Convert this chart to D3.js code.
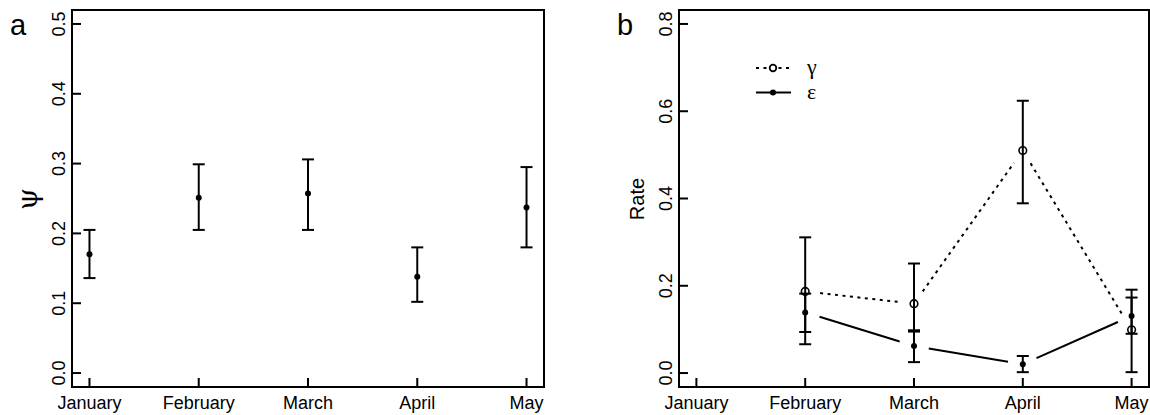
<!DOCTYPE html>
<html>
<head>
<meta charset="utf-8">
<script src="https://cdn.jsdelivr.net/npm/d3@7"></script>
<style>
  body { margin: 0; background: #fff; }
  svg { display: block; font-family: "Liberation Sans", Arial, sans-serif; }
</style>
</head>
<body>
<svg id="chart" width="1150" height="415"></svg>
<script>
// months on the x axis (1..5)
const months = ["January", "February", "March", "April", "May"];

// panel a : psi estimates with CI
const psi = [0.170, 0.251, 0.257, 0.138, 0.237];
const psiLo = [0.136, 0.205, 0.205, 0.102, 0.180];
const psiHi = [0.205, 0.299, 0.306, 0.180, 0.295];
const ticksA = [0, 0.1, 0.2, 0.3, 0.4, 0.5];

// panel b : gamma (colonisation) and epsilon (extinction), February..May
const rateMonths = [2, 3, 4, 5];
const gamma = [0.187, 0.159, 0.510, 0.099];
const gammaLo = [0.094, 0.098, 0.389, 0.002];
const gammaHi = [0.311, 0.251, 0.624, 0.173];
const eps = [0.139, 0.062, 0.020, 0.131];
const epsLo = [0.066, 0.025, 0.002, 0.090];
const epsHi = [0.182, 0.095, 0.039, 0.191];
const ticksB = [0, 0.2, 0.4, 0.6, 0.8];

const svg = d3.select("#chart");
const plotTop = 10, plotBottom = 387;

function panel(left, right, ymin, ymax, yticks, letter) {
  const x = d3.scaleLinear().domain([0.84, 5.16]).range([left, right]);
  const pad = (ymax - ymin) * 0.04;
  const y = d3.scaleLinear().domain([ymin - pad, ymax + pad]).range([plotBottom, plotTop]);
  const g = svg.append("g");

  g.append("rect")
    .attr("x", left).attr("y", plotTop)
    .attr("width", right - left).attr("height", plotBottom - plotTop)
    .attr("fill", "none").attr("stroke", "#000").attr("stroke-width", 2);

  // y ticks, pointing inward
  yticks.forEach((t) => {
    g.append("line")
      .attr("x1", left).attr("x2", left + 9)
      .attr("y1", y(t)).attr("y2", y(t))
      .attr("stroke", "#000").attr("stroke-width", 2);
    g.append("text")
      .attr("transform", `translate(${left - 7},${y(t)}) rotate(-90)`)
      .attr("text-anchor", "middle")
      .style("font-size", "18px")
      .text(t.toFixed(1));
  });

  // x ticks
  months.forEach((m, i) => {
    g.append("line")
      .attr("x1", x(i + 1)).attr("x2", x(i + 1))
      .attr("y1", plotBottom).attr("y2", plotBottom - 9)
      .attr("stroke", "#000").attr("stroke-width", 2);
    g.append("text")
      .attr("x", x(i + 1)).attr("y", 409)
      .attr("text-anchor", "middle")
      .style("font-size", "18px")
      .text(m);
  });

  g.append("text")
    .attr("x", left - 62).attr("y", 35)
    .style("font-size", "29px")
    .text(letter);

  return { x, y, g };
}

function errorBars(p, xs, lo, hi) {
  xs.forEach((v, i) => {
    const cx = p.x(v);
    p.g.append("line")
      .attr("x1", cx).attr("x2", cx)
      .attr("y1", p.y(lo[i])).attr("y2", p.y(hi[i]))
      .attr("stroke", "#000").attr("stroke-width", 2);
    [lo[i], hi[i]].forEach((e) => {
      p.g.append("line")
        .attr("x1", cx - 6).attr("x2", cx + 6)
        .attr("y1", p.y(e)).attr("y2", p.y(e))
        .attr("stroke", "#000").attr("stroke-width", 2);
    });
  });
}

// R type="b": segments between points with a gap around each point
function gappedLine(p, xs, ys, dash) {
  const gap = 15;
  for (let i = 0; i < xs.length - 1; i++) {
    const x1 = p.x(xs[i]), y1 = p.y(ys[i]);
    const x2 = p.x(xs[i + 1]), y2 = p.y(ys[i + 1]);
    const len = Math.hypot(x2 - x1, y2 - y1);
    if (len <= 2 * gap) continue;
    const ux = (x2 - x1) / len, uy = (y2 - y1) / len;
    p.g.append("line")
      .attr("x1", x1 + ux * gap).attr("y1", y1 + uy * gap)
      .attr("x2", x2 - ux * gap).attr("y2", y2 - uy * gap)
      .attr("stroke", "#000").attr("stroke-width", 2)
      .attr("stroke-dasharray", dash);
  }
}

// ---- panel a
const pa = panel(72, 544, 0, 0.5, ticksA, "a");
pa.g.append("text")
  .attr("transform", "translate(27,199) rotate(-90)")
  .attr("text-anchor", "middle")
  .attr("dominant-baseline", "central")
  .style("font-family", "'DejaVu Serif', serif")
  .style("font-size", "28px")
  .text("\u03c8");
errorBars(pa, months.map((m, i) => i + 1), psiLo, psiHi);
pa.g.selectAll(".pt").data(psi).join("circle")
  .attr("cx", (d, i) => pa.x(i + 1)).attr("cy", (d) => pa.y(d))
  .attr("r", 3).attr("fill", "#000");

// ---- panel b
const pb = panel(679, 1149, 0, 0.8, ticksB, "b");
pb.g.append("text")
  .attr("transform", "translate(644,199) rotate(-90)")
  .attr("text-anchor", "middle")
  .attr("font-size", 20)
  .style("font-size", "20px")
  .text("Rate");
gappedLine(pb, rateMonths, gamma, "3,4.5");
gappedLine(pb, rateMonths, eps, null);
errorBars(pb, rateMonths, gammaLo, gammaHi);
errorBars(pb, rateMonths, epsLo, epsHi);
pb.g.selectAll(".g").data(gamma).join("circle")
  .attr("cx", (d, i) => pb.x(rateMonths[i])).attr("cy", (d) => pb.y(d))
  .attr("r", 3.8).attr("fill", "none").attr("stroke", "#000").attr("stroke-width", 1.6);
pb.g.selectAll(".e").data(eps).join("circle")
  .attr("cx", (d, i) => pb.x(rateMonths[i])).attr("cy", (d) => pb.y(d))
  .attr("r", 3).attr("fill", "#000");

// legend
const leg = pb.g.append("g");
[["\u03b3", "3,4.5", false], ["\u03b5", null, true]].forEach((d, i) => {
  const ly = 68 + i * 24.5;
  leg.append("line")
    .attr("x1", 756).attr("x2", 791).attr("y1", ly).attr("y2", ly)
    .attr("stroke", "#000").attr("stroke-width", 2)
    .attr("stroke-dasharray", d[1]);
  leg.append("circle")
    .attr("cx", 773).attr("cy", ly)
    .attr("r", d[2] ? 3 : 3.3)
    .attr("fill", d[2] ? "#000" : "#fff")
    .attr("stroke", "#000").attr("stroke-width", d[2] ? 0 : 1.8);
  leg.append("text")
    .attr("x", 807).attr("y", ly + 6)
    .style("font-family", "'Liberation Serif', serif")
    .style("font-size", "22px")
    .text(d[0]);
});
</script>
</body>
</html>
